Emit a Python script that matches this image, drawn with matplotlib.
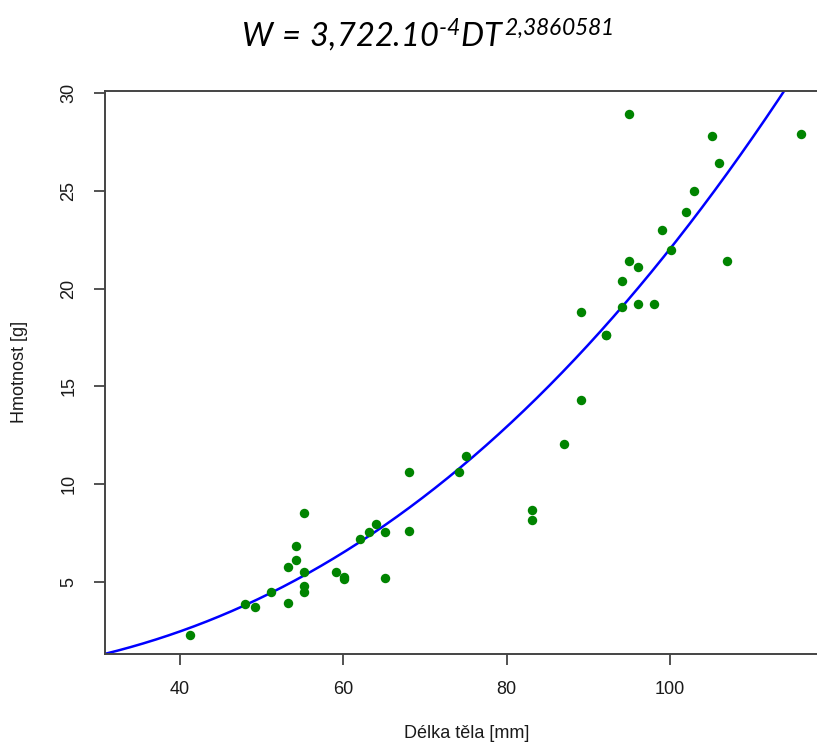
import numpy as np
import matplotlib
matplotlib.use("Agg")
import matplotlib.pyplot as plt

# ---- data ----
length_mm = [41.2, 48.0, 49.2, 51.1, 53.2, 53.2, 54.2, 54.2, 55.2, 55.2, 55.2, 55.2,
             59.1, 60.1, 60.1, 62.1, 63.1, 64.0, 65.1, 65.1, 68.1, 68.1, 74.2, 75.0,
             83.1, 83.1, 87.0, 89.1, 89.1, 92.2, 92.2, 94.1, 94.1, 95.0, 95.0, 96.1,
             96.1, 98.0, 99.0, 100.1, 102.0, 103.0, 105.1, 106.0, 107.0, 116.1]
weight_g = [2.3, 3.85, 3.7, 4.5, 5.75, 3.95, 6.15, 6.85, 8.55, 5.5, 4.8, 4.5,
            5.5, 5.15, 5.25, 7.2, 7.55, 7.95, 7.55, 5.2, 7.6, 10.6, 10.6, 11.45,
            8.7, 8.15, 12.05, 14.3, 18.8, 17.65, 17.65, 20.4, 19.05, 21.4, 28.95, 21.1,
            19.2, 19.2, 23.0, 21.95, 23.9, 25.0, 27.8, 26.4, 21.4, 27.9]

# fitted model stated in the title: W = a * DT^b
coef_a = 3.722e-4
coef_b = 2.3860581

x_ticks = [40, 60, 80, 100]
y_ticks = [5, 10, 15, 20, 25, 30]

title_text = r'$W\,{=}\,3{,}722.10^{\text{-}4}DT^{2{,}3860581}$'
x_label = "Délka těla [mm]"
y_label = "Hmotnost [g]"

# ---- styling ----
plt.rcParams['mathtext.fontset'] = 'custom'
plt.rcParams['mathtext.rm'] = 'Lato:italic'
plt.rcParams['mathtext.it'] = 'Lato:italic'
plt.rcParams['mathtext.default'] = 'it'
plt.rcParams['font.family'] = ['Liberation Sans', 'DejaVu Sans']

W, H = 817, 742
fig = plt.figure(figsize=(W / 100, H / 100), dpi=100)
ax = fig.add_axes([105 / W, (H - 654) / H, (829 - 105) / W, (654 - 90.5) / H])

xlim = (30.81, 119.49)
ylim = (1.319, 30.13)

xs = np.linspace(xlim[0], xlim[1], 400)
ax.plot(xs, coef_a * xs ** coef_b, color='#0000FF', lw=1.8, zorder=2)
ax.plot(length_mm, weight_g, 'o', color='#008400', markersize=6.8,
        markeredgewidth=0, zorder=3)

ax.set_xlim(*xlim)
ax.set_ylim(*ylim)
ax.set_xticks(x_ticks)
ax.set_yticks(y_ticks)
ax.set_xticklabels([str(v) for v in x_ticks])
ax.set_yticklabels([str(v) for v in y_ticks])

axis_col = '#444444'
for s in ax.spines.values():
    s.set_color(axis_col)
    s.set_linewidth(1.4)

ax.tick_params(axis='both', direction='out', length=8, width=1.3,
               color=axis_col, labelsize=13, labelcolor='#1a1a1a')
ax.tick_params(axis='x', pad=11.5)
ax.tick_params(axis='y', pad=12)
for lab in ax.get_yticklabels():
    lab.set_rotation(90)
    lab.set_va('center')

fig.text(20 / W, 1 - 372 / H, y_label, rotation=90, ha='center', va='center',
         fontsize=13, color='#1a1a1a')
fig.text(467 / W, 1 - 733 / H, x_label, ha='center', va='center',
         fontsize=13, color='#1a1a1a')

fig.text(427 / W, 1 - 47 / H, title_text, ha='center', va='baseline',
         fontsize=23.5, color='black')

fig.savefig('out.png', dpi=100)
